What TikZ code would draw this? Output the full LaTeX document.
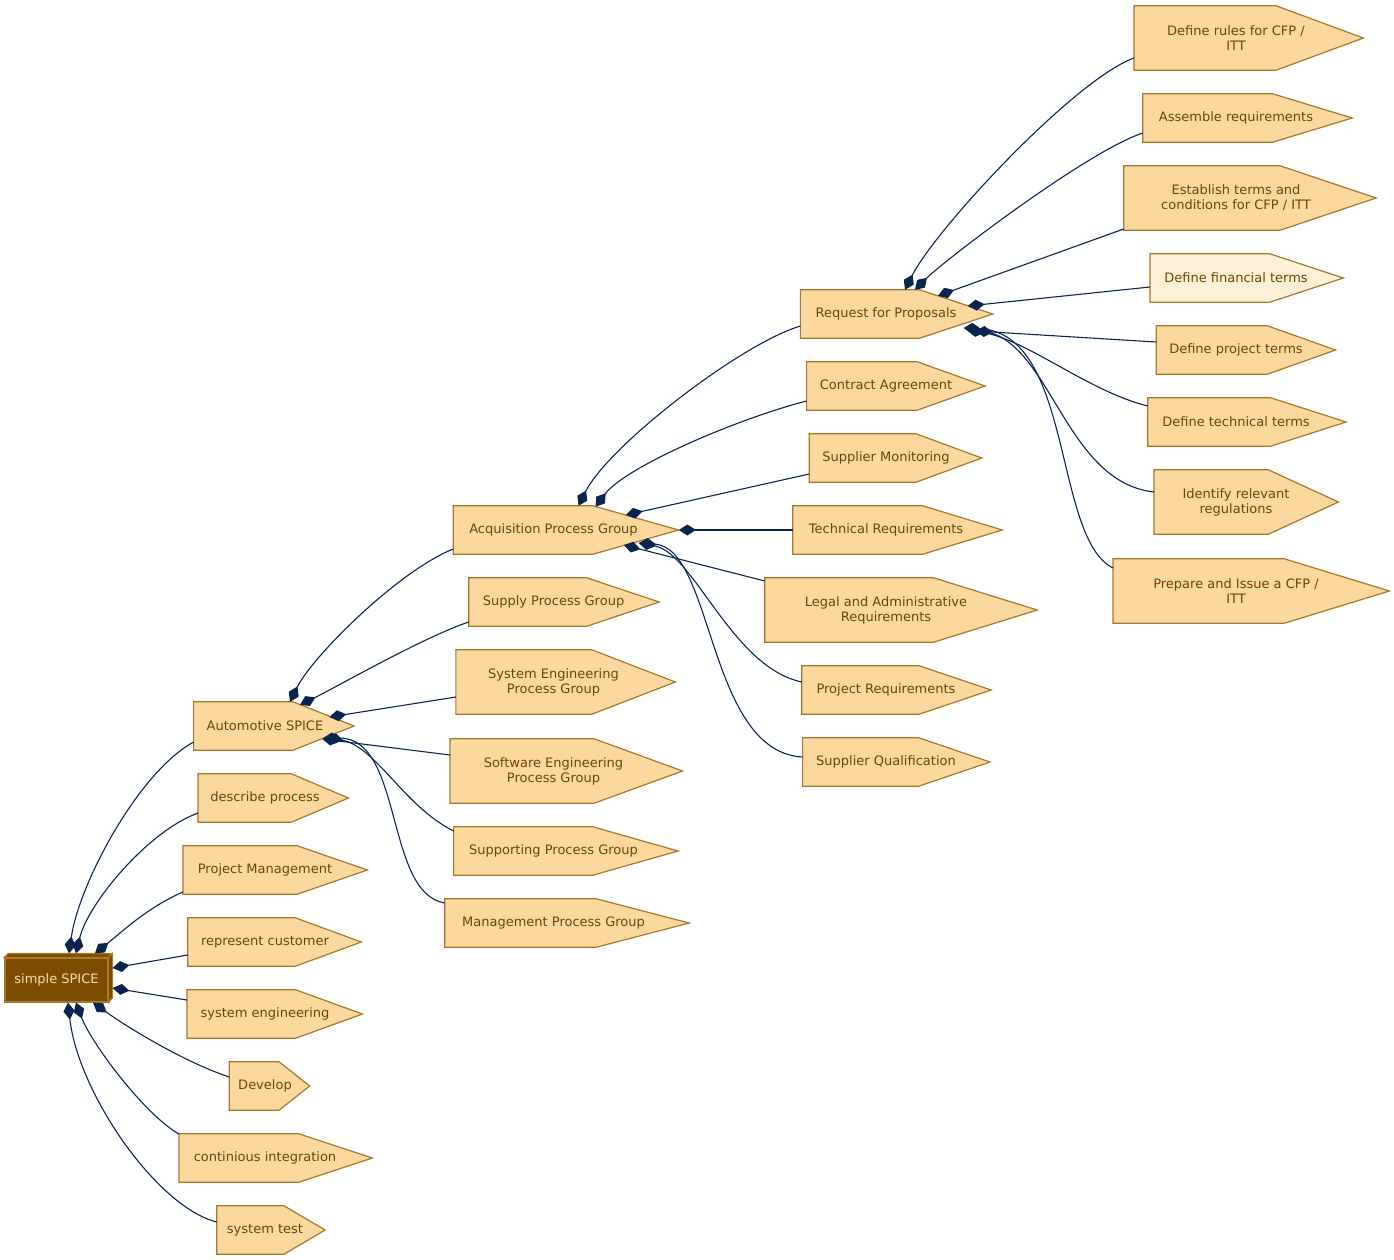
\documentclass[tikz,border=0pt]{standalone}
\usepackage{fontspec}
\setmainfont{DejaVu Sans}
\usetikzlibrary{arrows.meta,calc,backgrounds}
\definecolor{cdsfill}{HTML}{FBD99E}
\definecolor{cdspale}{HTML}{FFF0D8}
\definecolor{cdsline}{HTML}{A8782C}
\definecolor{cdstext}{HTML}{6E4500}
\definecolor{rootfill}{HTML}{7A4D00}
\definecolor{roottext}{HTML}{F6DDB0}
\definecolor{edgecol}{HTML}{0A2450}
\tikzset{cds/.style = {shape=rectangle,inner sep=0pt,align=center,text=cdstext,font=\fontsize{13}{15}\selectfont,minimum height=48pt}}
\tikzset{cdsshape/.style = {draw=cdsline,line width=1.2pt}}
\tikzset{root/.style = {shape=rectangle,draw=cdsline,fill=rootfill,line width=1.2pt,text=roottext,font=\fontsize{13}{15}\selectfont,minimum width=103pt,minimum height=44pt,inner sep=0pt}}
\tikzset{edge/.style = {{Diamond[length=17pt,width=11pt]}-,draw=edgecol,line width=1.1pt}}

\begin{document}
\begin{tikzpicture}[x=1pt,y=-1pt]
\useasboundingbox (0,0) rectangle (1394,1259);
\def \xa {265}
\def \xb {553.5}
\def \xc {886}
\def \xd {1236}

\node[root] (spice) at (56.5,980) {simple SPICE};
\filldraw[draw=cdsline,fill=rootfill,line width=1.2pt] (spice.north west) -- ++(4,-4) -- ++(103,0) -- (spice.north east) -- cycle;
\filldraw[draw=cdsline,fill=rootfill,line width=1.2pt] (spice.north east) -- ++(4,-4) -- ++(0,44) -- (spice.south east) -- cycle;

% first column
\node[cds,minimum width=142.4pt] (auto) at (\xa,726) {Automotive SPICE};
\node[cds,minimum width=133.5pt] (desc) at (\xa,798) {describe process};
\node[cds,minimum width=163.8pt] (pm) at (\xa,870) {Project Management};
\node[cds,minimum width=154pt] (cust) at (\xa,942) {represent customer};
\node[cds,minimum width=155.8pt] (syseng) at (\xa,1014) {system engineering};
\node[cds,minimum width=71.2pt] (dev) at (\xa,1086) {Develop};
\node[cds,minimum width=171.8pt] (ci) at (\xa,1158) {continious integration};
\node[cds,minimum width=96.1pt] (test) at (\xa,1230) {system test};

% second column
\node[cds,minimum width=200.3pt] (acq) at (\xb,530) {Acquisition Process Group};
\node[cds,minimum width=169.1pt] (supply) at (\xb,602) {Supply Process Group};
\node[cds,minimum width=194.9pt,minimum height=64pt] (sepg) at (\xb,682) {System Engineering\\Process Group};
\node[cds,minimum width=206.5pt,minimum height=64pt] (swpg) at (\xb,771) {Software Engineering\\Process Group};
\node[cds,minimum width=199.4pt] (suppg) at (\xb,851) {Supporting Process Group};
\node[cds,minimum width=217.2pt] (mgmt) at (\xb,923) {Management Process Group};

% third column
\node[cds,minimum width=170.9pt] (rfp) at (\xc,314) {Request for Proposals};
\node[cds,minimum width=158.4pt] (contract) at (\xc,386) {Contract Agreement};
\node[cds,minimum width=153.1pt] (monitor) at (\xc,458) {Supplier Monitoring};
\node[cds,minimum width=186pt] (techreq) at (\xc,530) {Technical Requirements};
\node[cds,minimum width=242pt,minimum height=64pt] (legal) at (\xc,610) {Legal and Administrative\\Requirements};
\node[cds,minimum width=168.2pt] (projreq) at (\xc,690) {Project Requirements};
\node[cds,minimum width=166.4pt] (qual) at (\xc,762) {Supplier Qualification};

% fourth column
\node[cds,minimum width=203.8pt,minimum height=64pt] (rules) at (\xd,38) {Define rules for CFP /\\ITT};
\node[cds,minimum width=186pt] (assemble) at (\xd,118) {Assemble requirements};
\node[cds,minimum width=224.3pt,minimum height=64pt] (establish) at (\xd,198) {Establish terms and\\conditions for CFP / ITT};
\node[cds,minimum width=171.8pt] (fin) at (\xd,278) {Define financial terms};
\node[cds,minimum width=159.3pt] (projterms) at (\xd,350) {Define project terms};
\node[cds,minimum width=176.2pt] (techterms) at (\xd,422) {Define technical terms};
\node[cds,minimum width=163.8pt,minimum height=64pt] (identify) at (\xd,502) {Identify relevant\\regulations};
\node[cds,minimum width=245.6pt,minimum height=64pt] (prepare) at (\xd,591) {Prepare and Issue a CFP /\\ITT};

% pointed boxes behind the labels
\begin{scope}[on background layer]
\foreach \n/\f in {auto/cdsfill,desc/cdsfill,pm/cdsfill,cust/cdsfill,syseng/cdsfill,dev/cdsfill,ci/cdsfill,test/cdsfill,
  acq/cdsfill,supply/cdsfill,sepg/cdsfill,swpg/cdsfill,suppg/cdsfill,mgmt/cdsfill,
  rfp/cdsfill,contract/cdsfill,monitor/cdsfill,techreq/cdsfill,legal/cdsfill,projreq/cdsfill,qual/cdsfill,
  rules/cdsfill,assemble/cdsfill,establish/cdsfill,fin/cdspale,projterms/cdsfill,techterms/cdsfill,identify/cdsfill,prepare/cdsfill}
  \filldraw[cdsshape,fill=\f] (\n.north west) -- ($(\n.north west)!0.6966!(\n.north east)$)
    -- ($(\n.west)!1.1236!(\n.east)$) -- ($(\n.south west)!0.6966!(\n.south east)$) -- (\n.south west) -- cycle;
\end{scope}

% simple SPICE
\draw[edge] ($(spice.north)+(12.5,-4)$) .. controls +(10,-70) and +(-55,30) .. ($(auto.west)+(0,16)$);
\draw[edge] ($(spice.north)+(19.5,-4)$) .. controls +(12,-50) and +(-50,18) .. ($(desc.west)+(0,15)$);
\draw[edge] ($(spice.north)+(38.5,-4)$) .. controls +(25,-20) and +(-35,15) .. ($(pm.west)+(0,22)$);
\draw[edge] ($(spice.east)+(4,-12)$) -- ($(cust.west)+(0,13)$);
\draw[edge] ($(spice.east)+(4,8)$) -- ($(syseng.west)+(0,-14)$);
\draw[edge] ($(spice.south)+(36.5,0)$) .. controls +(35,25) and +(-45,-15) .. ($(dev.west)+(0,-9)$);
\draw[edge] ($(spice.south)+(19.5,0)$) .. controls +(15,40) and +(-35,-20) .. ($(ci.west)+(0,-24)$);
\draw[edge] ($(spice.south)+(11.5,0)$) .. controls +(10,90) and +(-60,-15) .. ($(test.west)+(0,-8)$);

% Automotive SPICE
\draw[edge] ($(auto.north)+(25,0)$) .. controls +(22,-45) and +(-55,22) .. ($(acq.west)+(0,19)$);
\draw[edge] ($(auto.north)+(35,3)$) .. controls +(35,-17) and +(-45,15) .. ($(supply.west)+(0,20)$);
\draw[edge] ($(auto.east)+(-7,-9)$) -- ($(sepg.west)+(0,15)$);
\draw[edge] ($(auto.east)+(-14,13)$) -- ($(swpg.west)+(0,-16)$);
\draw[edge] ($(auto.east)+(-10,11)$) .. controls +(50,10) and +(-50,-25) .. ($(suppg.west)+(0,-20)$);
\draw[edge] ($(auto.east)+(-13,12)$) .. controls +(80,0) and +(-60,-10) .. ($(mgmt.west)+(0,-20)$);

% Acquisition Process Group
\draw[edge] ($(acq.north)+(25,0)$) .. controls +(30,-60) and +(-60,18) .. ($(rfp.west)+(0,12)$);
\draw[edge] ($(acq.north)+(42,1)$) .. controls +(30,-40) and +(-70,18) .. ($(contract.west)+(0,15)$);
\draw[edge] ($(acq.east)+(-28,-15)$) -- ($(monitor.west)+(0,16)$);
\draw[edge] ($(acq.east)+(25,0)$) -- (techreq.west);
\draw[edge] ($(acq.east)+(-30,15)$) -- ($(legal.west)+(0,-29)$);
\draw[edge] ($(acq.east)+(-15,13)$) .. controls +(55,10) and +(-70,-15) .. ($(projreq.west)+(0,-8)$);
\draw[edge] ($(acq.east)+(-15,13)$) .. controls +(75,5) and +(-95,-5) .. ($(qual.west)+(0,-5)$);

% Request for Proposals
\draw[edge] ($(rfp.north)+(19,0)$) .. controls +(30,-60) and +(-60,22) .. ($(rules.west)+(0,20)$);
\draw[edge] ($(rfp.north)+(29,0)$) .. controls +(30,-30) and +(-55,18) .. ($(assemble.west)+(0,15)$);
\draw[edge] ($(rfp.north)+(52,6)$) -- ($(establish.west)+(0,31)$);
\draw[edge] ($(rfp.east)+(-4,-8)$) -- ($(fin.west)+(0,9)$);
\draw[edge] ($(rfp.east)+(4,17)$) -- ($(projterms.west)+(0,-8)$);
\draw[edge] ($(rfp.east)+(-4,16)$) .. controls +(60,10) and +(-60,-15) .. ($(techterms.west)+(0,-16)$);
\draw[edge] ($(rfp.east)+(-6,15)$) .. controls +(85,10) and +(-90,-10) .. ($(identify.west)+(0,-10)$);
\draw[edge] ($(rfp.east)+(-8,14)$) .. controls +(110,5) and +(-60,-30) .. ($(prepare.west)+(0,-23)$);

\end{tikzpicture}
\end{document}
